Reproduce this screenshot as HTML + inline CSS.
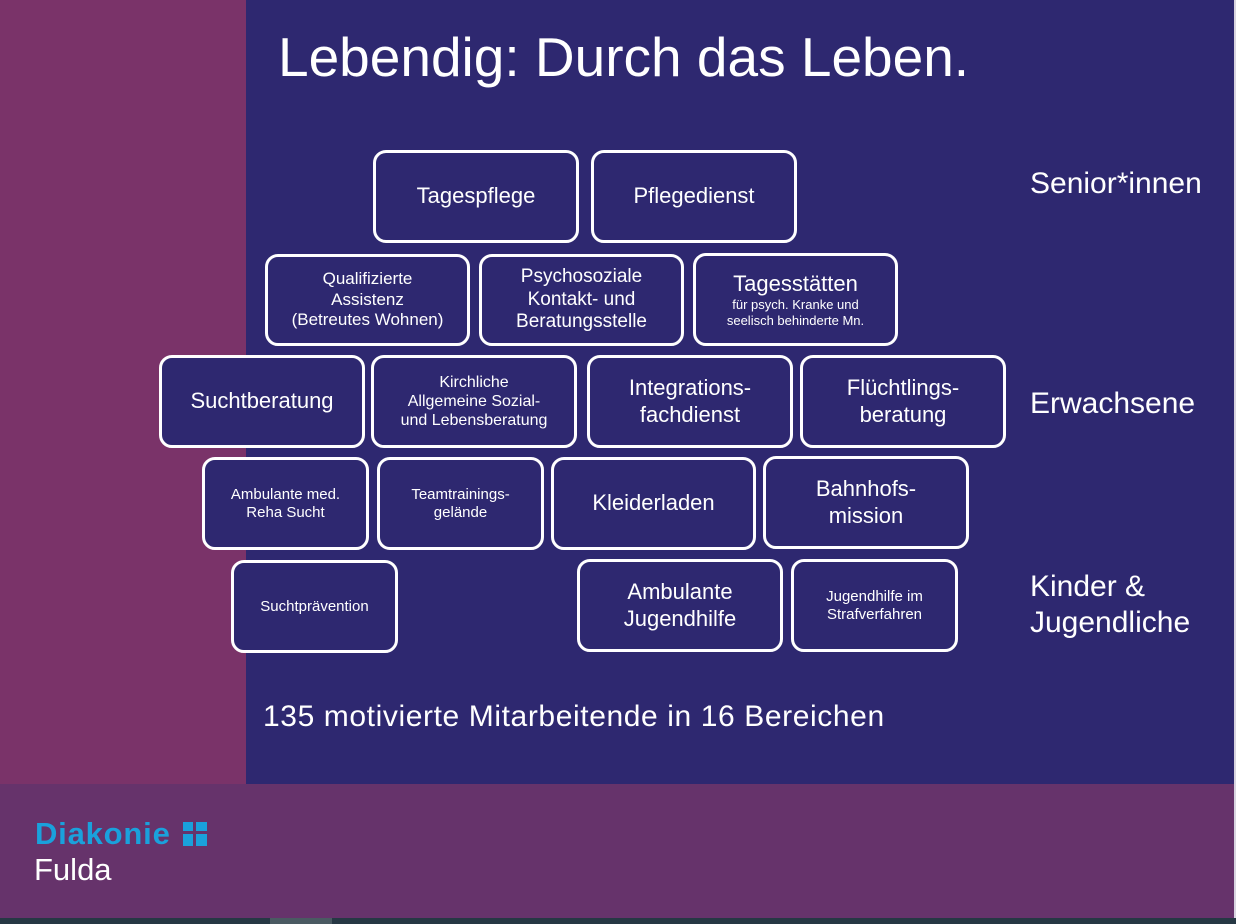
<!DOCTYPE html>
<html><head><meta charset="utf-8"><style>
*{margin:0;padding:0;box-sizing:border-box}
body{width:1236px;height:924px;position:relative;overflow:hidden;background:#7a3369;font-family:"Liberation Sans",sans-serif;color:#fff}
.blue{position:absolute;left:246px;top:0;width:988px;height:784px;background:#2e2870}
.bot{position:absolute;left:0;top:784px;width:1234px;height:134px;background:#66336b}
.edge{position:absolute;left:1234px;top:0;width:2px;height:924px;background:#d8d4e0}
.strip{position:absolute;left:0;top:918px;width:1236px;height:6px;background:#263844}
.strip2{position:absolute;left:270px;top:918px;width:62px;height:6px;background:#4a5a62}
.b{position:absolute;border:3px solid #fff;border-radius:13px;background:#2e2870;display:flex;align-items:center;justify-content:center;text-align:center;line-height:1.2}
.t{position:absolute;white-space:nowrap}
</style></head><body>
<div class="blue"></div><div class="bot"></div><div class="edge"></div><div class="strip"></div><div class="strip2"></div>
<div class="t" style="left:278px;top:25px;font-size:55px">Lebendig: Durch das Leben.</div>
<div class="t" style="left:1030px;top:167px;font-size:30px">Senior*innen</div>
<div class="t" style="left:1030px;top:387px;font-size:30px">Erwachsene</div>
<div class="t" style="left:1030px;top:569px;font-size:30px;line-height:36px">Kinder &amp;<br>Jugendliche</div>
<div class="t" style="left:263px;top:700px;font-size:30px;letter-spacing:0.6px">135 motivierte Mitarbeitende in 16 Bereichen</div>

<div class="b" style="left:373px;top:150px;width:206px;height:93px;font-size:22px">Tagespflege</div>
<div class="b" style="left:591px;top:150px;width:206px;height:93px;font-size:22px">Pflegedienst</div>
<div class="b" style="left:265px;top:254px;width:205px;height:92px;font-size:17px">Qualifizierte<br>Assistenz<br>(Betreutes Wohnen)</div>
<div class="b" style="left:479px;top:254px;width:205px;height:92px;font-size:19px">Psychosoziale<br>Kontakt- und<br>Beratungsstelle</div>
<div class="b" style="left:693px;top:253px;width:205px;height:93px;font-size:13px;line-height:1.25"><div><span style="font-size:22px">Tagesstätten</span><br>für psych. Kranke und<br>seelisch behinderte Mn.</div></div>
<div class="b" style="left:159px;top:355px;width:206px;height:93px;font-size:22px">Suchtberatung</div>
<div class="b" style="left:371px;top:355px;width:206px;height:93px;font-size:16px">Kirchliche<br>Allgemeine Sozial-<br>und Lebensberatung</div>
<div class="b" style="left:587px;top:355px;width:206px;height:93px;font-size:22px">Integrations-<br>fachdienst</div>
<div class="b" style="left:800px;top:355px;width:206px;height:93px;font-size:22px">Flüchtlings-<br>beratung</div>
<div class="b" style="left:202px;top:457px;width:167px;height:93px;font-size:15px">Ambulante med.<br>Reha Sucht</div>
<div class="b" style="left:377px;top:457px;width:167px;height:93px;font-size:15px">Teamtrainings-<br>gelände</div>
<div class="b" style="left:551px;top:457px;width:205px;height:93px;font-size:22px">Kleiderladen</div>
<div class="b" style="left:763px;top:456px;width:206px;height:93px;font-size:22px">Bahnhofs-<br>mission</div>
<div class="b" style="left:231px;top:560px;width:167px;height:93px;font-size:15px">Suchtprävention</div>
<div class="b" style="left:577px;top:559px;width:206px;height:93px;font-size:22px">Ambulante<br>Jugendhilfe</div>
<div class="b" style="left:791px;top:559px;width:167px;height:93px;font-size:15px">Jugendhilfe im<br>Strafverfahren</div>

<div class="t" style="left:35px;top:816px;font-size:31px;font-weight:bold;color:#1aa1dc;letter-spacing:0.8px">Diakonie</div>
<div style="position:absolute;left:183px;top:822px;width:24px;height:24px;background:#1aa1dc">
<div style="position:absolute;left:10px;top:0;width:3px;height:24px;background:#66336b"></div>
<div style="position:absolute;left:0;top:9px;width:24px;height:3px;background:#66336b"></div>
</div>
<div class="t" style="left:34px;top:852px;font-size:31px">Fulda</div>
</body></html>
